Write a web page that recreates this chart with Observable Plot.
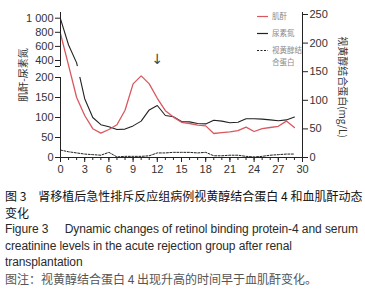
<!DOCTYPE html>
<html>
<head>
<meta charset="utf-8">
<script src="https://cdn.jsdelivr.net/npm/d3@7"></script>
<script src="https://cdn.jsdelivr.net/npm/@observablehq/plot@0.6"></script>
<style>
  html, body { margin: 0; padding: 0; background: #fff; }
  #wrap { position: relative; width: 365px; }
  #legend { position: absolute; left: 257px; top: 10px; font-family: "Noto Sans CJK SC", sans-serif; font-size: 7.5px; color: #8a8a8a; line-height: 1; }
  #legend .row { position: absolute; left: 0; white-space: nowrap; }
  #legend svg { position: absolute; left: 0; }
  #legend span { position: absolute; left: 15px; }
  #caption { margin-top: 3px; padding-left: 5px; font-size: 12px; line-height: 16.6px; white-space: nowrap; }
  .cn { font-family: "Noto Sans CJK SC", sans-serif; color: #111; }
  .en { font-family: "Liberation Sans", Arial, sans-serif; color: #2a2a2a; letter-spacing: -0.08px; }
  .note { font-family: "Noto Sans CJK SC", sans-serif; color: #555; }
</style>
</head>
<body>
<div id="wrap">
  <div id="chart"></div>
  <div id="legend"></div>
</div>
<div id="caption">
  <div class="cn">图 3　肾移植后急性排斥反应组病例视黄醇结合蛋白 4 和血肌酐动态</div>
  <div class="cn">变化</div>
  <div class="en">Figure 3&nbsp;&nbsp;&nbsp;&nbsp; Dynamic changes of retinol binding protein-4 and serum</div>
  <div class="en">creatinine levels in the acute rejection group after renal</div>
  <div class="en">transplantation</div>
  <div class="note">图注：视黄醇结合蛋白 4 出现升高的时间早于血肌酐变化。</div>
</div>
<script>
// ---- data ----
const days       = [0,1,2,3,4,5,6,7,8,9,10,11,12,13,14,15,16,17,18,19,20,21,22,23,24,25,26,27,28,29];
const creatinine = [780,330,150,105,72,61,70,82,118,184,217,184,148,117,101,88,85,81,79,60,62,64,67,76,65,72,75,78,91,75];
const urea       = [990,620,366,147,100,82,77,70,71,79,91,119,130,105,102,90,89,85,84,93,91,87,88,97,97,96,94,92,94,101];
const rbp4       = [13,10,8,6,5,4,9,1,2,2,2,3,8,8,9,9,9,8,9,3,3,4,4,2,1,2,4,5,6,6];

const xTicks = [0,3,6,9,12,15,18,21,24,27,30];
const leftTicks  = [0,50,100,150,200,400,600,800,1000];
const leftLabels = ["0","50","100","150","200","400","600","800","1 000"];
const rightTicks = [0,50,100,150,200,250];
const seriesNames = ["肌酐","尿素氮","视黄醇结合蛋白"];
const leftTitle  = "肌酐-尿素氮";
const rightTitle = "视黄醇结合蛋白(mg/L)";
const arrowNote  = [{day: 12, value: 420, label: "↓"}];

// ---- broken left axis mapped onto the right-axis (display) scale ----
const pxPerUnit = 143 / 250;          // right axis: 0..250 over 143 px
const yMax = 145 / pxPerUnit;         // frame height in right-axis units
function toDisp(v) {
  let off;
  if (v <= 200) off = v * 0.4;
  else if (v <= 315) off = 80 + (v - 200) * 11 / 115;
  else off = 97 + (v - 400) * 0.0705;
  return off / pxPerUnit;
}
const labelMap = new Map(leftTicks.map((v, i) => [toDisp(v), leftLabels[i]]));
labelMap.set(toDisp(315), "");
const leftTickPos = [...leftTicks.map(toDisp), toDisp(315)];

const rows = days.map((d, i) => ({day: d, cr: creatinine[i], bun: urea[i], rbp: rbp4[i]}));
const RED = "#d9575f";
const INK = "#222";

const chart = Plot.plot({
  width: 365, height: 185,
  marginLeft: 60, marginRight: 63, marginTop: 12, marginBottom: 28,
  style: {fontFamily: "'Liberation Sans', Arial, sans-serif", fontSize: "11px", color: "#333", background: "#fff"},
  x: {domain: [0, 30]},
  y: {domain: [0, yMax]},
  marks: [
    Plot.line(rows, {x: "day", y: d => toDisp(d.bun), stroke: INK, strokeWidth: 1.1}),
    // axis-break band hides the urea line inside the gap
    Plot.rect([0], {x1: () => 0, x2: () => 30, y1: () => toDisp(201), y2: () => toDisp(314), fill: "#fff", insetLeft: 1.5, insetRight: 1.5}),
    Plot.line(rows, {x: "day", y: d => toDisp(d.cr), stroke: RED, strokeWidth: 1.3}),
    Plot.line(rows, {x: "day", y: "rbp", stroke: INK, strokeWidth: 1, strokeDasharray: "2,1.5"}),
    // axis lines
    Plot.ruleY([0], {stroke: INK}),
    Plot.ruleX([30], {stroke: INK}),
    Plot.ruleX([0], {y1: () => 0, y2: () => toDisp(200), stroke: INK}),
    Plot.ruleX([0], {y1: () => toDisp(315), y2: () => yMax, stroke: INK}),
    Plot.axisX({ticks: d3.range(0, 31), tickSize: 3, tickFormat: () => "", label: null, stroke: INK}),
    Plot.axisX({ticks: xTicks, tickSize: 5, tickPadding: 3, label: null, stroke: INK}),
    Plot.axisY({anchor: "left", ticks: leftTickPos, tickFormat: d => labelMap.get(d), tickSize: 5, tickPadding: 2, label: null, stroke: INK}),
    Plot.axisY({anchor: "right", ticks: rightTicks, tickSize: 5, tickPadding: 2, label: null, stroke: INK}),
    Plot.text(arrowNote, {x: "day", y: d => toDisp(d.value), text: "label", fontSize: 14, fill: "#3a4a44", fontFamily: "DejaVu Sans"}),
    Plot.text([leftTitle], {frameAnchor: "left", textAnchor: "middle", text: d => d, dx: -37, dy: -10, rotate: -90, fontSize: 10, fill: "#333", fontFamily: "'Noto Sans CJK SC', sans-serif"}),
    Plot.text([rightTitle], {frameAnchor: "right", textAnchor: "middle", text: d => d, dx: 40, dy: 2, rotate: 90, fontSize: 10, fill: "#333", fontFamily: "'Noto Sans CJK SC', sans-serif"})
  ]
});
document.getElementById("chart").appendChild(chart);

// ---- legend ----
const legend = document.getElementById("legend");
const items = [
  {name: seriesNames[0], color: RED, dash: null, top: 2},
  {name: seriesNames[1], color: INK, dash: null, top: 19},
  {name: seriesNames[2], color: INK, dash: "2,1.5", top: 36}
];
items.forEach(it => {
  const row = document.createElement("div");
  row.className = "row";
  row.style.top = it.top + "px";
  const lines = it.name.length > 4 ? [it.name.slice(0, 4), it.name.slice(4)] : [it.name];
  row.innerHTML =
    `<svg width="12" height="9" style="top:0"><line x1="0" x2="11" y1="4.5" y2="4.5" stroke="${it.color}" stroke-width="1.2" ${it.dash ? `stroke-dasharray="${it.dash}"` : ""}/></svg>` +
    lines.map((t, i) => `<span style="top:${i * 11.5}px">${t}</span>`).join("");
  legend.appendChild(row);
});
</script>
</body>
</html>
